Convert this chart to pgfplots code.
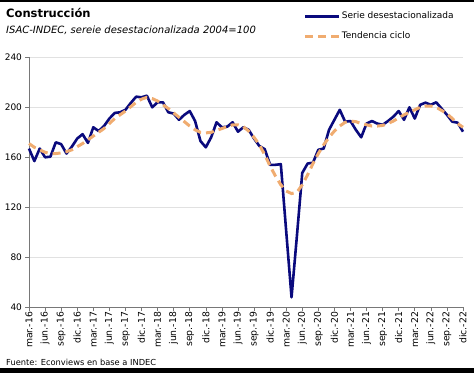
\documentclass[border=0pt]{standalone}
\usepackage{fontspec}
\setmainfont{DejaVu Sans}
\usepackage{pgfplots}
\pgfplotsset{compat=1.18}
\definecolor{navy}{RGB}{10,10,125}
\definecolor{sand}{RGB}{240,172,112}
\definecolor{gridc}{RGB}{225,225,225}
\definecolor{axc}{RGB}{120,120,120}
\begin{document}
\begin{tikzpicture}
\path[use as bounding box] (0,0) rectangle (474pt,373pt);
\fill[black] (0,0) rectangle (474pt,5pt);
\fill[black] (0,371pt) rectangle (474pt,373pt);
\node[anchor=base west, inner sep=0pt, font=\fontsize{11.5}{13}\selectfont\bfseries] at (6pt,355pt) {Construcción};
\node[anchor=base west, inner sep=0pt, font=\fontsize{10}{12}\selectfont\itshape] at (6pt,339pt) {ISAC-INDEC, sereie desestacionalizada 2004=100};
\node[anchor=base west, inner sep=0pt, font=\fontsize{8.3}{10}\selectfont] at (6pt,8pt) {Fuente: Econviews en base a INDEC};
\begin{axis}[
  at={(29pt,65.7pt)}, anchor=south west,
  scale only axis, width=434pt, height=250pt,
  xmin=0, xmax=81, ymin=40, ymax=240,
  axis x line=bottom, axis y line=left,
  axis line style={-, draw=axc, line width=0.8pt},
  ytick={40,80,120,160,200,240},
  xtick={0,3,...,81},
  xticklabels={mar.-16,jun.-16,sep.-16,dic.-16,mar.-17,jun.-17,sep.-17,dic.-17,mar.-18,jun.-18,sep.-18,dic.-18,mar.-19,jun.-19,sep.-19,dic.-19,mar.-20,jun.-20,sep.-20,dic.-20,mar.-21,jun.-21,sep.-21,dic.-21,mar.-22,jun.-22,sep.-22,dic.-22},
  xticklabel style={rotate=90, anchor=east, font=\fontsize{9.3}{10}\selectfont, inner sep=1pt},
  yticklabel style={font=\fontsize{9}{10}\selectfont},
  tick align=outside, major tick length=3.5pt,
  tick style={draw=axc, line width=0.6pt},
  ymajorgrids, grid style={draw=gridc, line width=0.6pt},
  /pgf/number format/assume math mode=true,
  clip=false,
  legend style={at={(axis description cs:0.626,1.195)}, anchor=north west, draw=none, fill=none,
    font=\fontsize{9}{10}\selectfont, row sep=9pt,
    nodes={inner sep=1pt, text height=7pt, text depth=2pt}},
  legend cell align=left,
  legend image code/.code={\draw[#1] (0pt,0pt) -- (34pt,0pt);},
]
\addplot[navy, line width=2.6pt, line join=round] coordinates {
(0,167)(1,157)(2,167)(3,160)(4,160.5)(5,172)(6,170.5)(7,163)(8,168.5)(9,175)
(10,178.5)(11,171.5)(12,184)(13,181)(14,185)(15,191)(16,195.5)(17,196)(18,198)(19,203.5)
(20,208.5)(21,208)(22,209.3)(23,200)(24,204)(25,204)(26,196)(27,195)(28,190)(29,194)
(30,197)(31,189)(32,173)(33,168)(34,176)(35,188)(36,184)(37,184.5)(38,188)(39,180.5)
(40,184)(41,182)(42,175)(43,169)(44,166.5)(45,154)(46,154)(47,154.5)(48,101)(49,48)
(50,97)(51,147.5)(52,155)(53,155.7)(54,166)(55,167)(56,182)(57,190)(58,198)(59,188.5)
(60,189)(61,182)(62,176)(63,187)(64,189)(65,187)(66,186)(67,189)(68,192.5)(69,197)
(70,190)(71,200)(72,191)(73,202)(74,203.7)(75,202)(76,204)(77,199)(78,194)(79,188.5)
(80,187.7)(81,180.5)
};
\addlegendentry{Serie desestacionalizada}
\addplot[sand, line width=3pt, dash pattern=on 8pt off 5pt] coordinates {
(0,171)(1,168)(2,166)(3,164)(4,163)(5,163)(6,163.5)(7,164.5)(8,166)(9,168.5)
(10,171)(11,174)(12,177)(13,180)(14,183)(15,187)(16,191)(17,194)(18,197)(19,200.5)
(20,204)(21,206.5)(22,208)(23,207)(24,205)(25,202)(26,199)(27,195.5)(28,192)(29,188.5)
(30,185)(31,182)(32,180)(33,179.5)(34,180)(35,181.5)(36,183)(37,184.5)(38,186)(39,186)
(40,184.5)(41,181)(42,176)(43,170)(44,162)(45,153)(46,145)(47,138)(48,133)(49,131)
(50,132)(51,138)(52,146)(53,155)(54,163)(55,170)(56,176)(57,181)(58,185)(59,188)
(60,189)(61,188.5)(62,187)(63,186)(64,185)(65,185)(66,185.5)(67,187)(68,189)(69,191.5)
(70,194)(71,196)(72,198)(73,200)(74,201)(75,201)(76,200)(77,197.5)(78,195)(79,191)
(80,187)(81,184)
};
\addlegendentry{Tendencia ciclo}
\end{axis}
\end{tikzpicture}
\end{document}
